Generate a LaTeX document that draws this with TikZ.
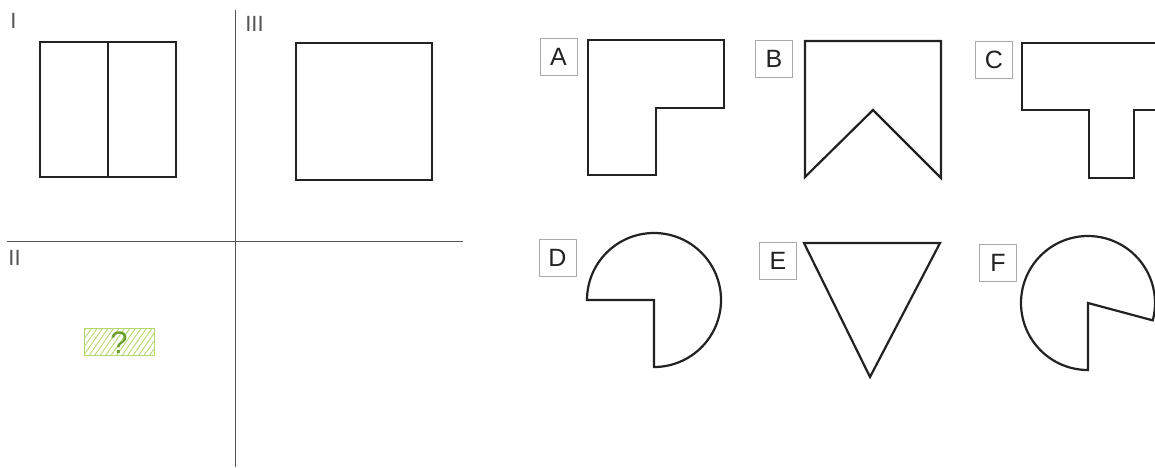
\documentclass[tikz,border=0pt]{standalone}
\usepackage{fontspec}
\setmainfont{Liberation Sans}
\usetikzlibrary{patterns.meta}
\definecolor{ink}{HTML}{222222}
\definecolor{rule}{HTML}{555555}
\definecolor{labgray}{HTML}{AAAAAA}
\definecolor{qgreen}{HTML}{6A9E2A}
\definecolor{hgreen}{HTML}{B4D86C}
\tikzset{
  shapeline/.style={draw=ink, line width=2.2pt, line join=miter},
  divider/.style={draw=rule, line width=0.9pt},
  optlabel/.style={draw=labgray, line width=0.7pt, minimum size=37pt, inner sep=0pt,
    text=ink, font=\fontsize{25}{27}\selectfont},
  roman/.style={text=rule, font=\fontsize{22}{24}\selectfont, inner sep=0pt},
  qbox/.style={draw=hgreen, line width=0.9pt, minimum width=70pt, minimum height=27pt, inner sep=0pt,
    pattern={Lines[angle=55,distance=4.5pt,line width=0.9pt]}, pattern color=hgreen},
  qmark/.style={text=qgreen, font=\fontsize{31}{31}\selectfont, inner sep=0pt}
}
\begin{document}
\begin{tikzpicture}[x=1pt,y=-1pt]
\useasboundingbox (0,0) rectangle (1155,467);
\clip (0,0) rectangle (1155,467);
\fill[white] (0,0) rectangle (1155,467);
% dividers
\coordinate (vtop) at (235.5,10);
\coordinate (vbot) at (235.5,467);
\coordinate (hl) at (7,241);
\coordinate (hr) at (463,241);
\draw[divider] (vtop) -- (vbot);
\draw[divider] (hl) -- (hr);
% roman numerals
\node[roman] (rI) at (13.5,21) {I};
\node[roman] (rIII) at (254.5,24) {III};
\node[roman] (rII) at (14.5,258) {II};
% panel I
\draw[shapeline] (40,42) rectangle (176,177);
\draw[shapeline] (108,42) -- (108,177);
% panel III
\draw[shapeline] (296,43) rectangle (432,180);
% panel II question
\node[qbox] (q) at (119,341.5) {};
\node[qmark] (qm) at (119,343) {?};
% option labels
\node[optlabel] (A) at (558.5,56.5) {A};
\node[optlabel] (B) at (774,58.5) {B};
\node[optlabel] (C) at (994,59.5) {C};
\node[optlabel] (D) at (557.5,257.5) {D};
\node[optlabel] (E) at (778,260.5) {E};
\node[optlabel] (F) at (998,263) {F};
% A
\draw[shapeline] (588,40) -- (724,40) -- (724,108) -- (656,108) -- (656,175) -- (588,175) -- cycle;
% B
\draw[shapeline] (805,41) -- (941,41) -- (941,178) -- (873,110) -- (805,177) -- cycle;
% C
\draw[shapeline] (1022,43) -- (1201,43) -- (1201,110) -- (1134,110) -- (1134,178) -- (1089,178) -- (1089,110) -- (1022,110) -- cycle;
% D
\draw[shapeline] (587,300) arc[start angle=180, end angle=450, radius=67] -- (654,300) -- cycle;
% E
\draw[shapeline] (804,243) -- (940,243) -- (870,377) -- cycle;
% F
\draw[shapeline] (1088,370) arc[start angle=90, end angle=375, radius=67] -- (1088,303) -- cycle;
\end{tikzpicture}
\end{document}
